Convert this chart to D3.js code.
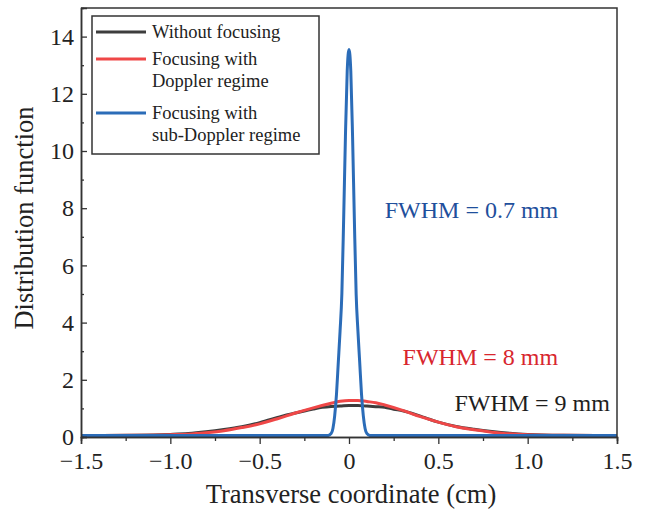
<!DOCTYPE html>
<meta charset="utf-8">
<script src="https://d3js.org/d3.v7.min.js"></script>
<style>
body { margin: 0; background: #fff; }
svg { font-family: "Liberation Serif", "Times New Roman", serif; }
</style>
<svg width="647" height="514"></svg>
<script>
// curve data (x in cm, y = distribution function)
var blackX = [-1.5, -1.2, -1.0, -0.9, -0.8, -0.7, -0.6, -0.5, -0.4, -0.35, -0.3, -0.25, -0.2, -0.15, -0.1, -0.05, 0, 0.05, 0.1, 0.15, 0.2, 0.25, 0.3, 0.35, 0.4, 0.45, 0.5, 0.6, 0.7, 0.8, 0.9, 1.0, 1.2, 1.5];
var blackY = [0.05, 0.06, 0.09, 0.12, 0.18, 0.26, 0.36, 0.5, 0.68, 0.77, 0.84, 0.91, 0.98, 1.04, 1.07, 1.08, 1.1, 1.1, 1.08, 1.06, 1.04, 0.97, 0.92, 0.83, 0.73, 0.62, 0.52, 0.37, 0.27, 0.19, 0.13, 0.09, 0.06, 0.05];

var redX = [-1.5, -1.2, -1.0, -0.9, -0.8, -0.7, -0.6, -0.5, -0.4, -0.3, -0.2, -0.1, -0.05, 0, 0.05, 0.1, 0.15, 0.2, 0.3, 0.4, 0.5, 0.6, 0.7, 0.8, 0.9, 1.0, 1.2, 1.5];
var redY = [0.05, 0.06, 0.08, 0.1, 0.15, 0.22, 0.33, 0.46, 0.64, 0.84, 1.02, 1.18, 1.25, 1.28, 1.28, 1.24, 1.2, 1.12, 0.93, 0.71, 0.52, 0.36, 0.25, 0.17, 0.11, 0.08, 0.06, 0.05];

var blueX = [-1.5, -0.12, -0.1, -0.09, -0.08, -0.07, -0.06, -0.05, -0.04, -0.03, -0.02, -0.01, 0, 0.01, 0.02, 0.03, 0.04, 0.05, 0.06, 0.07, 0.08, 0.09, 0.1, 0.12, 1.5];
var blueY = [0.05, 0.05, 0.12, 0.3, 0.75, 1.5, 2.6, 3.7, 5.0, 7.6, 10.5, 12.8, 13.55, 12.8, 10.5, 7.6, 5.0, 3.7, 2.6, 1.5, 0.75, 0.3, 0.12, 0.05, 0.05];

var xTicks = [-1.5, -1.0, -0.5, 0, 0.5, 1.0, 1.5];
var xMinor = [-1.25, -0.75, -0.25, 0.25, 0.75, 1.25];
var yTicks = [0, 2, 4, 6, 8, 10, 12, 14];
var yMinor = [1, 3, 5, 7, 9, 11, 13];

var series = [
  {name: ["Without focusing"], color: "#3d3d3d", x: blackX, y: blackY},
  {name: ["Focusing with", "Doppler regime"], color: "#ef4747", x: redX, y: redY},
  {name: ["Focusing with", "sub-Doppler regime"], color: "#2b6cb8", x: blueX, y: blueY}
];

var notes = [
  {text: "FWHM = 0.7 mm", x: 0.2, y: 7.67, color: "#1f4f9c"},
  {text: "FWHM = 8 mm", x: 0.3, y: 2.53, color: "#d8262e"},
  {text: "FWHM = 9 mm", x: 0.59, y: 0.91, color: "#1e1e1e"}
];

var svg = d3.select("svg"),
    margin = {top: 8, right: 30, bottom: 77, left: 81},
    width = 647 - margin.left - margin.right,
    height = 514 - margin.top - margin.bottom,
    g = svg.append("g").attr("transform", "translate(" + margin.left + "," + margin.top + ")");

var x = d3.scaleLinear().domain([-1.5, 1.5]).range([0, width]);
var y = d3.scaleLinear().domain([0, 15]).range([height, 0]);

var axisColor = "#333";

// curves
var line = d3.line()
  .x(function(d) { return x(d[0]); })
  .y(function(d) { return y(d[1]); })
  .curve(d3.curveMonotoneX);

g.append("clipPath").attr("id", "clip").append("rect")
  .attr("width", width).attr("height", height);

g.append("g").attr("clip-path", "url(#clip)")
  .selectAll("path")
  .data(series)
  .enter().append("path")
  .attr("fill", "none")
  .attr("stroke", function(d) { return d.color; })
  .attr("stroke-width", 3)
  .attr("stroke-linejoin", "round")
  .attr("d", function(d) { return line(d3.zip(d.x, d.y)); });

// x axis (ticks outward)
g.append("g")
  .attr("transform", "translate(0," + height + ")")
  .call(d3.axisBottom(x).tickValues(xMinor).tickSize(4).tickFormat(""));
g.append("g")
  .attr("transform", "translate(0," + height + ")")
  .call(d3.axisBottom(x).tickValues(xTicks).tickSize(7).tickPadding(8)
    .tickFormat(function(d) { return d === 0 ? "0" : d3.format(".1f")(d).replace("-", "\u2212"); }));

// y axis (ticks inward)
g.append("g")
  .call(d3.axisLeft(y).tickValues(yMinor).tickSize(-3).tickFormat(""));
g.append("g")
  .call(d3.axisLeft(y).tickValues(yTicks).tickSize(-6).tickPadding(7));

g.selectAll(".domain").attr("stroke", axisColor).attr("stroke-width", 1.5);
g.selectAll(".tick line").attr("stroke", axisColor).attr("stroke-width", 1.3);
g.selectAll(".tick text").attr("font-family", "Liberation Serif").attr("font-size", 24).attr("fill", "#222");

// top and right frame
g.append("path")
  .attr("d", "M0,0H" + width + "V" + height)
  .attr("fill", "none").attr("stroke", axisColor).attr("stroke-width", 1.5);

// axis titles
svg.append("text")
  .attr("x", margin.left + width / 2 + 2)
  .attr("y", 503)
  .attr("text-anchor", "middle")
  .attr("font-size", 26.5)
  .attr("fill", "#222")
  .text("Transverse coordinate (cm)");

svg.append("text")
  .attr("transform", "translate(33," + 218 + ") rotate(-90)")
  .attr("text-anchor", "middle")
  .attr("font-size", 26.5)
  .attr("fill", "#222")
  .text("Distribution function");

// annotations
g.selectAll(".note")
  .data(notes)
  .enter().append("text")
  .attr("class", "note")
  .attr("x", function(d) { return x(d.x); })
  .attr("y", function(d) { return y(d.y); })
  .attr("font-size", 24)
  .attr("fill", function(d) { return d.color; })
  .text(function(d) { return d.text; });

// legend
var legend = svg.append("g").attr("transform", "translate(92,16)");
legend.append("rect")
  .attr("width", 227).attr("height", 138)
  .attr("fill", "#fff").attr("stroke", axisColor).attr("stroke-width", 1.5);

var rowY = [16, 43, 97];
var items = legend.selectAll(".item")
  .data(series)
  .enter().append("g")
  .attr("transform", function(d, i) { return "translate(0," + rowY[i] + ")"; });

items.append("line")
  .attr("x1", 4).attr("x2", 54)
  .attr("stroke", function(d) { return d.color; })
  .attr("stroke-width", 3);

items.each(function(d) {
  var t = d3.select(this).append("text")
    .attr("x", 60)
    .attr("y", 6)
    .attr("font-size", 18.5)
    .attr("fill", "#222");
  d.name.forEach(function(s, i) {
    t.append("tspan").attr("x", 60).attr("dy", i === 0 ? 0 : 22).text(s);
  });
});
</script>
